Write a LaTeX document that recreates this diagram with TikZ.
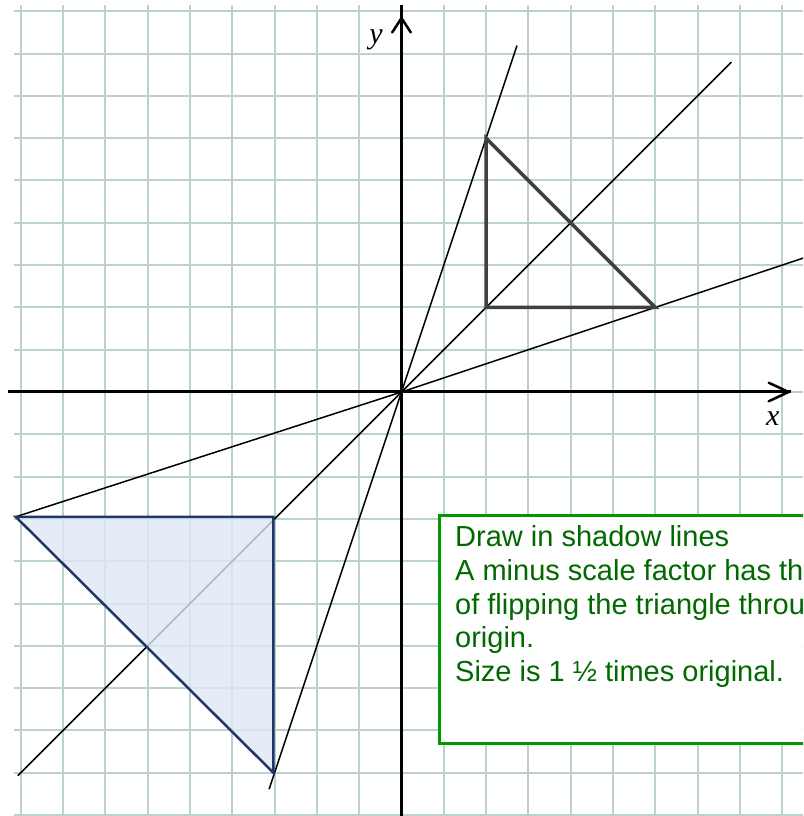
\documentclass[tikz,border=0pt]{standalone}
\usepackage{fontspec}
\setmainfont{Liberation Sans}
\newfontfamily\labfont{Liberation Serif}
\definecolor{gridc}{RGB}{188,210,204}
\definecolor{origc}{RGB}{64,64,64}
\definecolor{navyc}{RGB}{31,56,100}
\definecolor{shadec}{RGB}{224,232,245}
\definecolor{boxc}{RGB}{0,153,0}
\definecolor{txtc}{RGB}{0,105,0}
\tikzset{
  gridline/.style={draw=gridc,line width=2pt},
  axisline/.style={draw=black,line width=3pt},
  chev/.style={draw=black,line width=2.5pt,line cap=round,line join=miter},
  ray/.style={draw=black,line width=1.5pt},
  origtri/.style={draw=origc,line width=3.5pt,line join=miter},
  shadowtri/.style={draw=navyc,line width=2.5pt,line join=miter},
  shadowfill/.style={fill=shadec,fill opacity=0.8},
  notebox/.style={draw=boxc,line width=3pt,fill=white},
  notetext/.style={anchor=base west,inner sep=0pt,text=txtc,font=\fontsize{29}{34}\selectfont},
  axlab/.style={font=\labfont\itshape\fontsize{30}{30}\selectfont,inner sep=0pt}
}
\begin{document}
\begin{tikzpicture}[x=42.3pt,y=42.3pt]
\useasboundingbox (-401.5pt,-424pt) rectangle (401.5pt,392pt);
\clip (-401.5pt,-424pt) rectangle (401.5pt,392pt);
\fill[white] (-401.5pt,-424pt) rectangle (401.5pt,392pt);
% grid
\foreach \k in {-9,...,9} {\draw[gridline] (\k,-10.1) -- (\k,9.15);}
\foreach \k in {-9,...,10} {\draw[gridline] (-9.15,-\k) -- (9.6,-\k);}
% named points
\coordinate (O) at (0,0);
\coordinate (A) at (2,2);
\coordinate (B) at (2,6);
\coordinate (C) at (6,2);
\coordinate (A2) at (-3.03,-2.95);
\coordinate (B2) at (-3.03,-9.0);
\coordinate (C2) at (-9.12,-2.95);
\coordinate (r1s) at (-3.13,-9.39);
\coordinate (r1e) at (2.73,8.19);
\coordinate (r2s) at (-9.07,-9.07);
\coordinate (r2e) at (7.8,7.8);
\coordinate (r3e) at (9.6,3.2);
\coordinate (xs) at (-9.3,0);
\coordinate (xe) at (9.2,0);
\coordinate (ys) at (0,-10.1);
\coordinate (ye) at (0,9.15);
% axes
\draw[axisline] (xs) -- (xe);
\draw[axisline] (ys) -- (ye);
\draw[chev] (8.68,0.22) -- (9.15,0) -- (8.68,-0.22);
\draw[chev] (-0.22,8.5) -- (0,8.84) -- (0.22,8.5);
\node[axlab] (ylab) at (-0.6,8.33) {y};
\node[axlab] (xlab) at (8.78,-0.62) {x};
% rays through origin
\draw[ray] (r1s) -- (O) -- (r1e);
\draw[ray] (r2s) -- (O) -- (r2e);
\draw[ray] (C2) -- (O) -- (r3e);
% shadow triangle
\fill[shadowfill] (A2) -- (B2) -- (C2) -- cycle;
\draw[shadowtri] (A2) -- (B2) -- (C2) -- cycle;
% original triangle
\draw[origtri] (A) -- (B) -- (C) -- cycle;
% note box
\draw[notebox] (0.91,-2.91) rectangle (9.8,-8.3);
\node[notetext] (t1) at (1.265,-3.657) {Draw in shadow lines};
\node[notetext] (t2) at (1.265,-4.454) {A minus scale factor has the effect};
\node[notetext] (t3) at (1.265,-5.251) {of flipping the triangle through the};
\node[notetext] (t4) at (1.265,-6.048) {origin.};
\node[notetext] (t5) at (1.265,-6.845) {Size is 1 ½ times original.};
\end{tikzpicture}
\end{document}
